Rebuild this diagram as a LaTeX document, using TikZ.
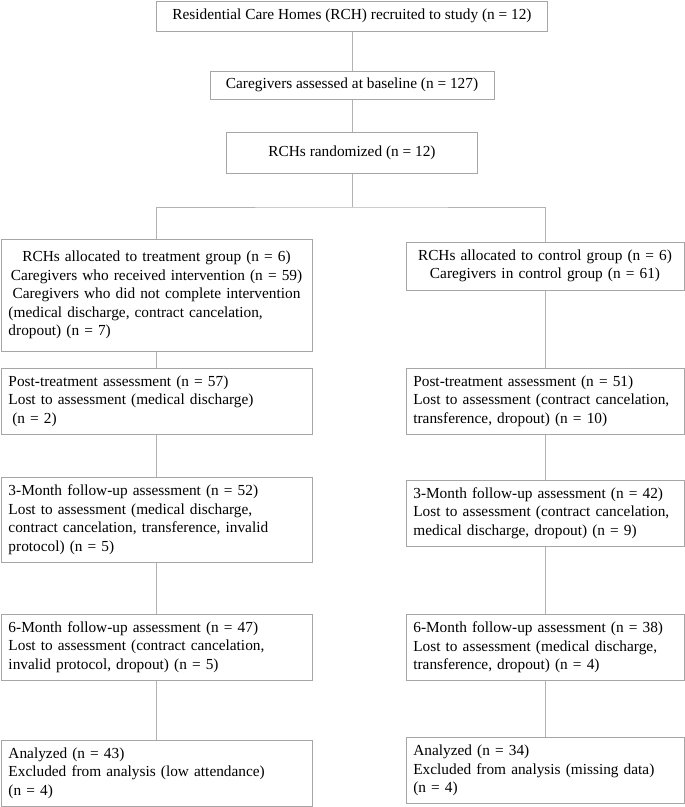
\documentclass[tikz,border=0pt]{standalone}
\usepackage{fontspec}
\setmainfont{Liberation Serif}
\usepackage{tikz}

\begin{document}
\begin{tikzpicture}[x=0.75pt, y=-0.75pt,
  box/.style={draw=gray!70, line width=0.75pt, fill=white, inner xsep=5.5pt, inner ysep=0pt, font=\fontsize{11.5}{13.9}\selectfont},
  topbox/.style={box, align=center},
  leftbox/.style={box, text width=222pt, minimum width=233.25pt, align=left},
  rightbox/.style={box, text width=197.5pt, minimum width=208.5pt, align=left},
  link/.style={draw=gray!60, line width=0.75pt}]
\useasboundingbox (0,0) rectangle (685,807);
\node[topbox, minimum width=293.25pt, minimum height=22.5pt] (rch) at (352,16) {Residential Care Homes (RCH) recruited to study (n = 12)};
\node[topbox, minimum width=213pt, minimum height=21pt] (base) at (352,85) {Caregivers assessed at baseline (n = 127)};
\node[topbox, minimum width=188.25pt, minimum height=30.75pt] (rand) at (352,152.5) {RCHs randomized (n = 12)};
\coordinate (split) at (352,207);
\node[leftbox, minimum height=84pt] (trt) at (156.5,295) {{\centering RCHs allocated to treatment group (n = 6)\\Caregivers who received intervention (n = 59)\\Caregivers who did not complete intervention\par}(medical discharge, contract cancelation,\\dropout) (n = 7)};
\node[rightbox, minimum height=36pt, align=center] (ctl) at (545,266) {RCHs allocated to control group (n = 6)\\Caregivers in control group (n = 61)};
\node[leftbox, minimum height=49.5pt] (trtpost) at (156.5,401) {Post-treatment assessment (n = 57)\\Lost to assessment (medical discharge)\\\hspace*{0.25em}(n = 2)};
\node[rightbox, minimum height=49.5pt] (ctlpost) at (545,401) {Post-treatment assessment (n = 51)\\Lost to assessment (contract cancelation,\\transference, dropout) (n = 10)};
\node[leftbox, minimum height=63.75pt] (trtthree) at (156.5,519.5) {3-Month follow-up assessment (n = 52)\\Lost to assessment (medical discharge,\\contract cancelation, transference, invalid\\protocol) (n = 5)};
\node[rightbox, minimum height=49.5pt] (ctlthree) at (545,513) {3-Month follow-up assessment (n = 42)\\Lost to assessment (contract cancelation,\\medical discharge, dropout) (n = 9)};
\node[leftbox, minimum height=49.5pt] (trtsix) at (156.5,647) {6-Month follow-up assessment (n = 47)\\Lost to assessment (contract cancelation,\\invalid protocol, dropout) (n = 5)};
\node[rightbox, minimum height=49.5pt] (ctlsix) at (545,647.5) {6-Month follow-up assessment (n = 38)\\Lost to assessment (medical discharge,\\transference, dropout) (n = 4)};
\node[leftbox, minimum height=49.5pt] (trtan) at (156.5,773) {Analyzed (n = 43)\\Excluded from analysis (low attendance)\\(n = 4)};
\node[rightbox, minimum height=49.5pt] (ctlan) at (545,770.5) {Analyzed (n = 34)\\Excluded from analysis (missing data)\\(n = 4)};
\draw[link] (rch) -- (base);
\draw[link] (base) -- (rand);
\draw[link] (rand) -- (split);
\draw[link] (trt.north) |- (split) -| (ctl.north);
\draw[link] (trt) -- (trtpost);
\draw[link] (trtpost) -- (trtthree);
\draw[link] (trtthree) -- (trtsix);
\draw[link] (trtsix) -- (trtan);
\draw[link] (ctl) -- (ctlpost);
\draw[link] (ctlpost) -- (ctlthree);
\draw[link] (ctlthree) -- (ctlsix);
\draw[link] (ctlsix) -- (ctlan);
\end{tikzpicture}
\end{document}
